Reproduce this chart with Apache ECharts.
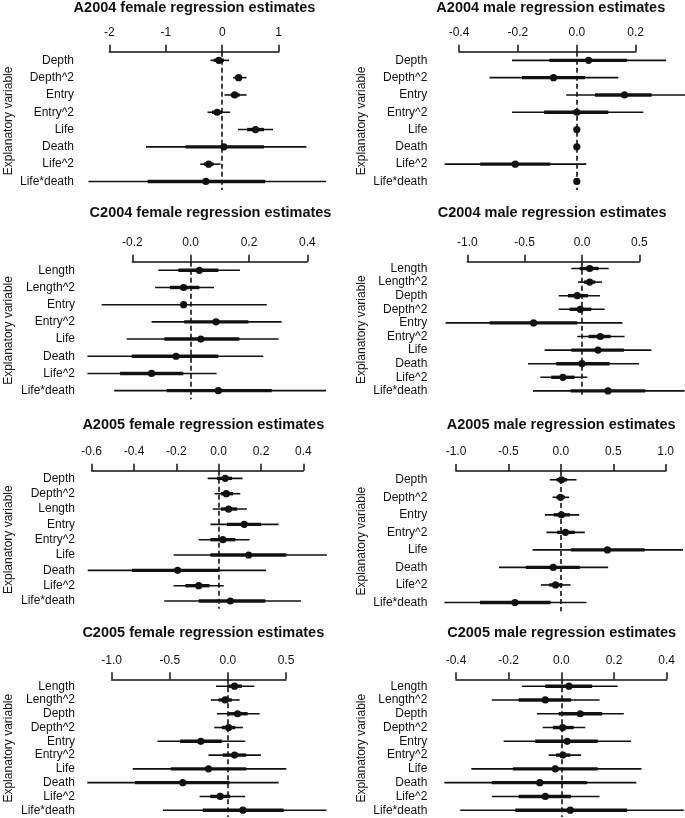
<!DOCTYPE html>
<html>
<head>
<meta charset="utf-8">
<script src="https://cdn.jsdelivr.net/npm/echarts@6/dist/echarts.min.js"></script>
<style>html,body{margin:0;padding:0;background:#fff}#c{width:685px;height:818px}</style>
</head>
<body>
<div id="c"></div>
<script>
// ---------- data ----------
// A2004 female
const a04fVars = ['Depth','Depth^2','Entry','Entry^2','Life','Death','Life^2','Life*death'];
const a04fEst  = [-0.06, 0.29, 0.22, -0.09, 0.59, 0.03, -0.24, -0.29];
const a04fLo   = [-0.21, 0.19, 0.04, -0.26, 0.28, -1.35, -0.39, -2.37];
const a04fHi   = [0.12, 0.43, 0.43, 0.14, 0.90, 1.49, -0.03, 1.84];
const a04fLo50 = [-0.15, 0.24, 0.15, -0.18, 0.44, -0.65, -0.32, -1.32];
const a04fHi50 = [0.03, 0.35, 0.31, 0.00, 0.74, 0.74, -0.15, 0.76];
const a04fTicks = [-2, -1, 0, 1];
// A2004 male
const a04mVars = ['Depth','Depth^2','Entry','Entry^2','Life','Death','Life^2','Life*death'];
const a04mEst  = [0.040, -0.079, 0.162, 0.0, 0.0, 0.0, -0.209, 0.0];
const a04mLo   = [-0.22, -0.296, -0.036, -0.22, -0.009, -0.009, -0.449, -0.009];
const a04mHi   = [0.303, 0.141, 0.40, 0.226, 0.009, 0.009, 0.032, 0.009];
const a04mLo50 = [-0.093, -0.186, 0.062, -0.111, -0.004, -0.004, -0.328, -0.004];
const a04mHi50 = [0.17, 0.028, 0.254, 0.107, 0.004, 0.004, -0.09, 0.004];
const a04mTicks = [-0.4, -0.2, 0.0, 0.2];
// C2004 female
const c04fVars = ['Length','Length^2','Entry','Entry^2','Life','Death','Life^2','Life*death'];
const c04fEst  = [0.030, -0.024, -0.024, 0.087, 0.035, -0.050, -0.134, 0.095];
const c04fLo   = [-0.111, -0.122, -0.305, -0.134, -0.219, -0.354, -0.354, -0.262];
const c04fHi   = [0.169, 0.080, 0.261, 0.312, 0.301, 0.249, 0.089, 0.464];
const c04fLo50 = [-0.042, -0.071, -0.024, -0.022, -0.090, -0.202, -0.242, -0.082];
const c04fHi50 = [0.095, 0.030, -0.024, 0.198, 0.167, 0.095, -0.025, 0.278];
const c04fTicks = [-0.2, 0.0, 0.2, 0.4];
// C2004 male
const c04mVars = ['Length','Length^2','Depth','Depth^2','Entry','Entry^2','Life','Death','Life^2','Life*death'];
const c04mEst  = [0.067, 0.067, -0.041, -0.015, -0.422, 0.160, 0.140, 0.0, -0.166, 0.227];
const c04mLo   = [-0.093, -0.035, -0.203, -0.203, -1.189, -0.041, -0.326, -0.471, -0.363, -0.427];
const c04mHi   = [0.233, 0.174, 0.157, 0.198, 0.352, 0.372, 0.605, 0.497, 0.047, 0.895];
const c04mLo50 = [-0.020, 0.017, -0.122, -0.108, -0.805, 0.058, -0.093, -0.224, -0.267, -0.099];
const c04mHi50 = [0.145, 0.116, 0.052, 0.081, -0.041, 0.250, 0.366, 0.241, -0.064, 0.552];
const c04mTicks = [-1.0, -0.5, 0.0, 0.5];
// A2005 female
const a05fVars = ['Depth','Depth^2','Length','Entry','Entry^2','Life','Death','Life^2','Life*death'];
const a05fEst  = [0.031, 0.036, 0.047, 0.121, 0.020, 0.142, -0.194, -0.094, 0.055];
const a05fLo   = [-0.052, -0.019, -0.028, -0.039, -0.094, -0.213, -0.619, -0.213, -0.257];
const a05fHi   = [0.113, 0.102, 0.134, 0.283, 0.146, 0.512, 0.224, 0.024, 0.389];
const a05fLo50 = [-0.008, 0.011, 0.011, 0.039, -0.039, -0.039, -0.409, -0.157, -0.094];
const a05fHi50 = [0.063, 0.068, 0.087, 0.200, 0.079, 0.320, 0.000, -0.043, 0.220];
const a05fTicks = [-0.6, -0.4, -0.2, 0.0, 0.2, 0.4];
// A2005 male
const a05mVars = ['Depth','Depth^2','Entry','Entry^2','Life','Death','Life^2','Life*death'];
const a05mEst  = [0.006, -0.003, 0.006, 0.044, 0.444, -0.073, -0.051, -0.438];
const a05mLo   = [-0.105, -0.079, -0.152, -0.137, -0.27, -0.590, -0.190, -1.111];
const a05mHi   = [0.149, 0.079, 0.175, 0.229, 1.165, 0.451, 0.092, 0.244];
const a05mLo50 = [-0.041, -0.041, -0.067, -0.035, 0.095, -0.333, -0.111, -0.771];
const a05mHi50 = [0.06, 0.038, 0.086, 0.133, 0.8, 0.181, 0.016, -0.098];
const a05mTicks = [-1.0, -0.5, 0.0, 0.5, 1.0];
// C2005 female
const c05fVars = ['Length','Length^2','Depth','Depth^2','Entry','Entry^2','Life','Death','Life^2','Life*death'];
const c05fEst  = [0.057, -0.023, 0.083, 0.006, -0.233, 0.057, -0.167, -0.388, -0.066, 0.129];
const c05fLo   = [-0.103, -0.147, -0.095, -0.118, -0.606, -0.167, -0.819, -1.21, -0.244, -0.560];
const c05fHi   = [0.227, 0.101, 0.273, 0.129, 0.149, 0.284, 0.503, 0.437, 0.149, 0.848];
const c05fLo50 = [-0.005, -0.080, 0.0, -0.052, -0.411, -0.043, -0.491, -0.799, -0.152, -0.216];
const c05fHi50 = [0.12, 0.034, 0.170, 0.063, -0.052, 0.158, 0.158, 0.014, 0.020, 0.480];
const c05fTicks = [-1.0, -0.5, 0.0, 0.5];
// C2005 male
const c05mVars = ['Length','Length^2','Depth','Depth^2','Entry','Entry^2','Life','Death','Life^2','Life*death'];
const c05mEst  = [0.029, -0.061, 0.072, 0.005, 0.022, 0.006, -0.023, -0.082, -0.061, 0.034];
const c05mLo   = [-0.150, -0.264, -0.093, -0.071, -0.219, -0.048, -0.342, -0.444, -0.264, -0.384];
const c05mHi   = [0.214, 0.145, 0.237, 0.091, 0.265, 0.075, 0.304, 0.285, 0.145, 0.465];
const c05mLo50 = [-0.061, -0.162, -0.010, -0.032, -0.099, -0.020, -0.184, -0.264, -0.162, -0.175];
const c05mHi50 = [0.117, 0.037, 0.155, 0.047, 0.138, 0.034, 0.138, 0.098, 0.037, 0.250];
const c05mTicks = [-0.4, -0.2, 0.0, 0.2, 0.4];

// ---------- panel definitions (data refs + layout) ----------
const panels = [
  {title:'A2004 female regression estimates', vars:a04fVars, est:a04fEst, lo:a04fLo, hi:a04fHi, lo50:a04fLo50, hi50:a04fHi50, ticks:a04fTicks, dec:0,
   L:109.3, R:278.7, T:51.7, band:17.3, tx:194.5, ty:8.3, lm:35.3, ng:94.3},
  {title:'A2004 male regression estimates', vars:a04mVars, est:a04mEst, lo:a04mLo, hi:a04mHi, lo50:a04mLo50, hi50:a04mHi50, ticks:a04mTicks, dec:1,
   L:459, R:635.7, T:51.7, band:17.3, tx:550.8, ty:8.3, lm:31.7, ng:91},
  {title:'C2004 female regression estimates', vars:c04fVars, est:c04fEst, lo:c04fLo, hi:c04fHi, lo50:c04fLo50, hi50:c04fHi50, ticks:c04fTicks, dec:1,
   L:132.3, R:307.3, T:261.7, band:17.19, tx:210.5, ty:213.3, lm:57.3, ng:117.3},
  {title:'C2004 male regression estimates', vars:c04mVars, est:c04mEst, lo:c04mLo, hi:c04mHi, lo50:c04mLo50, hi50:c04mHi50, ticks:c04mTicks, dec:1,
   L:467.3, R:639.3, T:261.7, band:13.6, tx:552.2, ty:213.3, lm:40, ng:99.3},
  {title:'A2005 female regression estimates', vars:a05fVars, est:a05fEst, lo:a05fLo, hi:a05fHi, lo50:a05fLo50, hi50:a05fHi50, ticks:a05fTicks, dec:1,
   L:91.7, R:303.3, T:470.7, band:15.33, tx:203.3, ty:425.7, lm:16.7, ng:76.7},
  {title:'A2005 male regression estimates', vars:a05mVars, est:a05mEst, lo:a05mLo, hi:a05mHi, lo50:a05mLo50, hi50:a05mHi50, ticks:a05mTicks, dec:1,
   L:456, R:665.7, T:471, band:17.53, tx:561.2, ty:425.7, lm:28.7, ng:88},
  {title:'C2005 female regression estimates', vars:c05fVars, est:c05fEst, lo:c05fLo, hi:c05fHi, lo50:c05fLo50, hi50:c05fHi50, ticks:c05fTicks, dec:1,
   L:111.7, R:286, T:679.3, band:13.78, tx:203.3, ty:633.3, lm:36.7, ng:96.7},
  {title:'C2005 male regression estimates', vars:c05mVars, est:c05mEst, lo:c05mLo, hi:c05mHi, lo50:c05mLo50, hi50:c05mHi50, ticks:c05mTicks, dec:1,
   L:456, R:666.7, T:679.3, band:13.78, tx:561.7, ty:633.3, lm:28.7, ng:88}
];

const FONT = 'Liberation Sans, Arial, sans-serif';
const INK = '#111';

function renderItem(params, api) {
  const y = api.value(0);
  const p = api.coord([api.value(1), y]);
  const a = api.coord([api.value(2), y]);
  const b = api.coord([api.value(3), y]);
  const c = api.coord([api.value(4), y]);
  const d = api.coord([api.value(5), y]);
  return {
    type: 'group',
    children: [
      {type:'line', shape:{x1:a[0], y1:a[1], x2:b[0], y2:b[1]}, style:{stroke:INK, lineWidth:1.6}},
      {type:'line', shape:{x1:c[0], y1:c[1], x2:d[0], y2:d[1]}, style:{stroke:INK, lineWidth:3.4}},
      {type:'circle', shape:{cx:p[0], cy:p[1], r:3.6}, style:{fill:INK}}
    ]
  };
}

const option = {
  animation: false,
  backgroundColor: '#fff',
  textStyle: {fontFamily: FONT},
  title: [], grid: [], xAxis: [], yAxis: [], series: []
};

panels.forEach((P, i) => {
  const n = P.vars.length;
  const step = P.ticks[1] - P.ticks[0];
  option.title.push({
    text: P.title, left: P.tx, top: P.ty - 8, textAlign: 'center', padding: 0,
    textStyle: {fontFamily: FONT, fontSize: 14.5, fontWeight: 'bold', color: INK}
  });
  option.grid.push({left: P.L, top: P.T, width: P.R - P.L, height: P.band * n});
  option.xAxis.push({
    type: 'value', gridIndex: i, position: 'top',
    min: P.ticks[0], max: P.ticks[P.ticks.length - 1], interval: step,
    axisLine: {show: true, lineStyle: {color: INK, width: 1.5}},
    axisTick: {show: true, length: 7, lineStyle: {color: INK, width: 1.5}},
    axisLabel: {show: true, margin: 13, fontSize: 12, fontFamily: FONT, color: INK,
      formatter: v => (Math.abs(v) < 1e-9 ? 0 : v).toFixed(P.dec)},
    splitLine: {show: false}
  });
  option.yAxis.push({
    type: 'category', gridIndex: i, inverse: true, data: P.vars, boundaryGap: true,
    axisLine: {show: false}, axisTick: {show: false},
    axisLabel: {interval: 0, hideOverlap: false, margin: P.lm, fontSize: 12, fontFamily: FONT, color: INK},
    name: 'Explanatory variable', nameLocation: 'middle', nameRotate: 90, nameGap: P.ng,
    nameTextStyle: {fontSize: 12, fontFamily: FONT, color: INK}
  });
  option.series.push({
    type: 'custom', xAxisIndex: i, yAxisIndex: i, clip: false,
    renderItem: renderItem,
    encode: {x: [1, 2, 3, 4, 5], y: 0},
    data: P.vars.map((v, k) => [k, P.est[k], P.lo[k], P.hi[k], P.lo50[k], P.hi50[k]]),
    markLine: {
      silent: true, symbol: 'none', label: {show: false},
      lineStyle: {color: INK, type: [5, 3], width: 1.6},
      data: [{xAxis: 0}]
    },
    z: 3
  });
});

const chart = echarts.init(document.getElementById('c'), null, {renderer: 'canvas'});
chart.setOption(option);
</script>
</body>
</html>
